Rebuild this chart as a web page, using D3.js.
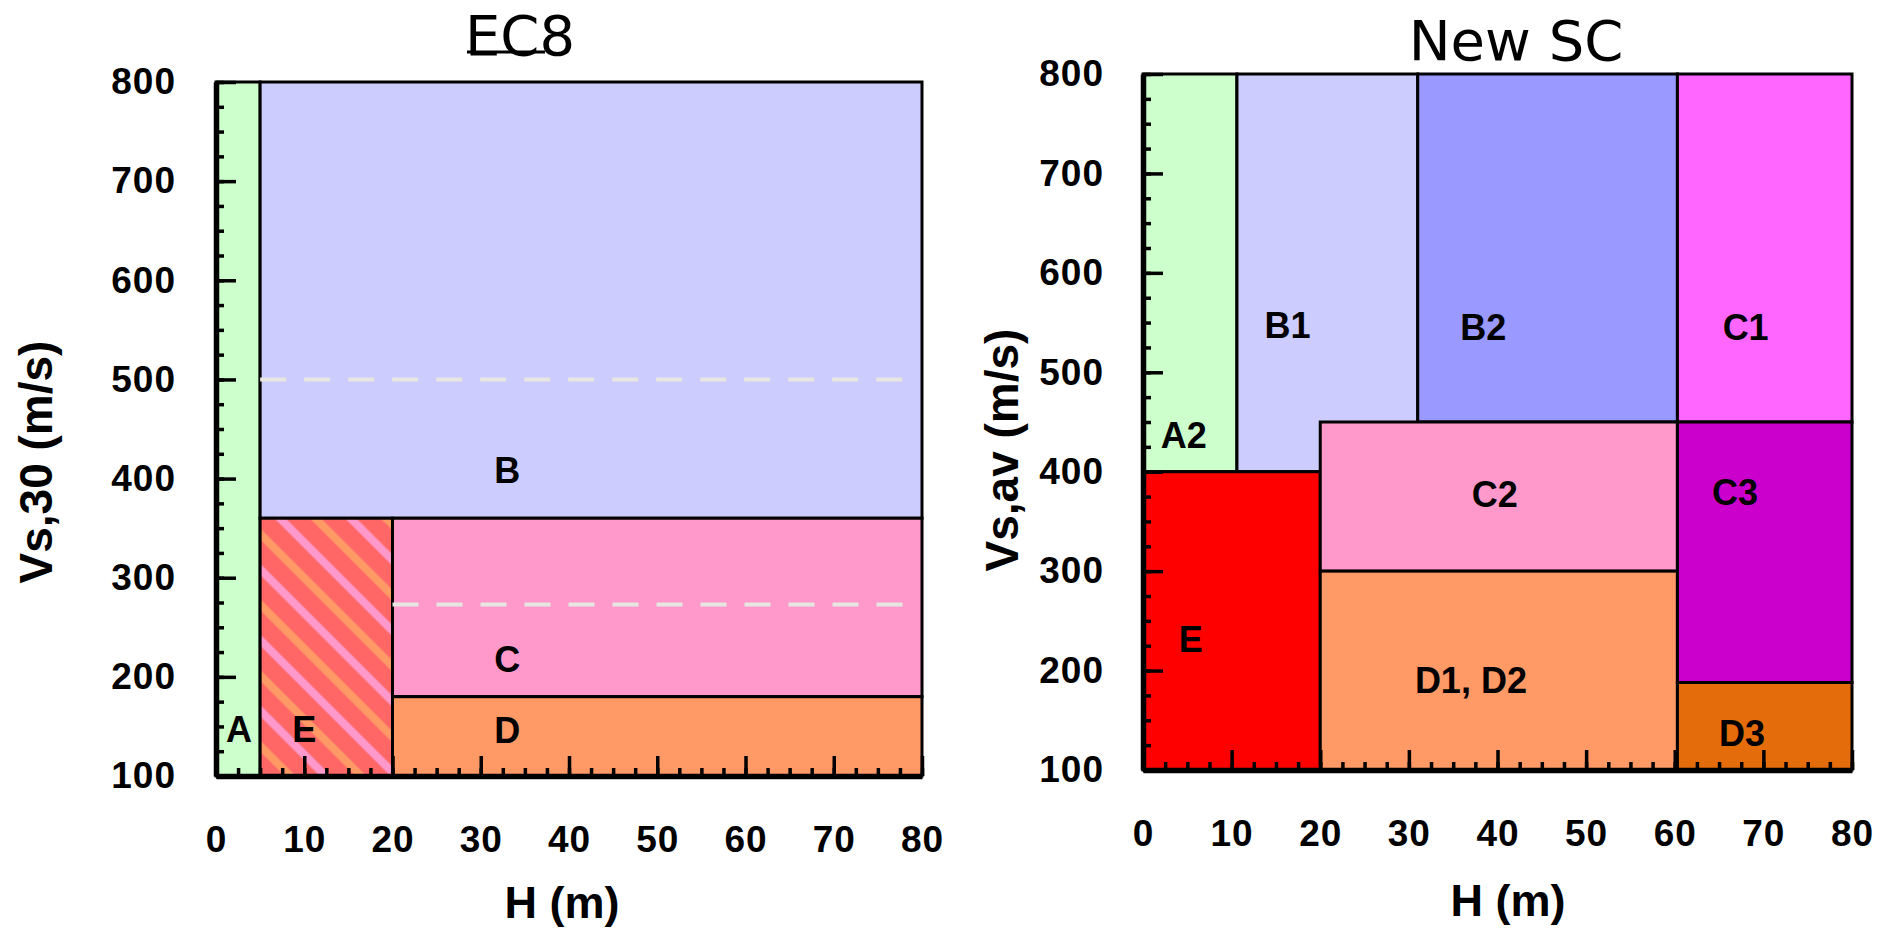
<!DOCTYPE html>
<html>
<head>
<meta charset="utf-8">
<script src="https://cdn.jsdelivr.net/npm/d3@7"></script>
<style>
  body { margin: 0; background: #fff; }
  text { font-family: "Liberation Sans", Arial, sans-serif; font-weight: bold; fill: #000; }
  .title { font-family: "DejaVu Sans", Verdana, sans-serif; font-weight: normal; }
</style>
</head>
<body>
<svg id="chart" width="1890" height="932"></svg>
<script>
// ---- EC8 panel zones
var ec8Names  = ["A", "B", "C", "D", "E"];
var ec8H0     = [0, 5, 20, 20, 5];
var ec8H1     = [5, 80, 80, 80, 20];
var ec8V0     = [100, 360, 180, 100, 100];
var ec8V1     = [800, 800, 360, 180, 360];
var ec8Fill   = ["#ccffcc", "#ccccff", "#ff99cc", "#ff9966", "url(#hatchE)"];
var ec8LabelH = [2.6, 33, 33, 33, 10];
var ec8LabelV = [147, 409, 218, 146, 147];
// dashed sub-limits
var ec8DashV  = [500, 273];
var ec8DashH0 = [5, 20];
var ec8DashH1 = [78.5, 78.5];

// ---- New SC panel zones (drawn back to front)
var scNames  = ["A2", "B1", "B2", "C1", "E", "C2", "D1, D2", "C3", "D3"];
var scH0     = [0, 10.6, 31, 60.3, 0, 20, 20, 60.3, 60.3];
var scH1     = [10.6, 31, 60.3, 80, 20, 60.3, 60.3, 80, 80];
var scV0     = [400, 400, 450, 450, 100, 300, 100, 188, 100];
var scV1     = [800, 800, 800, 800, 400, 450, 300, 450, 188];
var scFill   = ["#ccffcc", "#ccccff", "#9999ff", "#ff66ff", "#ff0000", "#ff99cc", "#ff9966", "#cc00cc", "#e46c0a"];
var scLabelH = [4.6, 16.3, 38.4, 68, 5.4, 39.7, 37, 66.8, 67.6];
var scLabelV = [437, 548, 546, 546, 232, 378, 190, 380, 137];

// ---- axes
var hTicks = [0, 10, 20, 30, 40, 50, 60, 70, 80];
var vTicks = [100, 200, 300, 400, 500, 600, 700, 800];
var hMinor = d3.range(0, 80.1, 2.5);
var vMinor = d3.range(100, 800.1, 25);

var svg = d3.select("#chart");

// hatch for EC8 zone E
var pat = svg.append("defs").append("pattern")
    .attr("id", "hatchE")
    .attr("patternUnits", "userSpaceOnUse")
    .attr("width", 50).attr("height", 50)
    .attr("patternTransform", "rotate(-45)");
pat.append("rect").attr("width", 50).attr("height", 50).attr("fill", "#ff6666");
pat.append("rect").attr("x", 2.5).attr("width", 8).attr("height", 50).attr("fill", "#ff9966");
pat.append("rect").attr("x", 27.5).attr("width", 8).attr("height", 50).attr("fill", "#ff99cc");

function drawPanel(p) {
  var x = d3.scaleLinear().domain([0, 80]).range(p.xRange);
  var y = d3.scaleLinear().domain([100, 800]).range(p.yRange);
  var g = svg.append("g");

  // zones
  g.selectAll("rect.zone")
    .data(p.names.map(function(n, i) { return i; }))
    .enter().append("rect")
      .attr("class", "zone")
      .attr("x", function(i) { return x(p.h0[i]); })
      .attr("y", function(i) { return y(p.v1[i]); })
      .attr("width", function(i) { return x(p.h1[i]) - x(p.h0[i]); })
      .attr("height", function(i) { return y(p.v0[i]) - y(p.v1[i]); })
      .attr("fill", function(i) { return p.fill[i]; })
      .attr("stroke", "#000")
      .attr("stroke-width", 3);

  // dashed lines
  if (p.dashV) {
    g.selectAll("line.dash")
      .data(p.dashV.map(function(v, i) { return i; }))
      .enter().append("line")
        .attr("x1", function(i) { return x(p.dashH0[i]); })
        .attr("x2", function(i) { return x(p.dashH1[i]); })
        .attr("y1", function(i) { return y(p.dashV[i]); })
        .attr("y2", function(i) { return y(p.dashV[i]); })
        .attr("stroke", "#e8e6e0")
        .attr("stroke-width", 4)
        .attr("stroke-dasharray", "26,18");
  }

  // zone labels
  g.selectAll("text.zl")
    .data(p.names.map(function(n, i) { return i; }))
    .enter().append("text")
      .attr("x", function(i) { return x(p.labelH[i]); })
      .attr("y", function(i) { return y(p.labelV[i]); })
      .attr("dy", "0.36em")
      .attr("text-anchor", "middle")
      .style("font-size", "36px")
      .text(function(i) { return p.names[i]; });

  // minor ticks
  g.append("g")
    .attr("transform", "translate(0," + p.yRange[0] + ")")
    .call(d3.axisBottom(x).tickValues(hMinor).tickSize(-8).tickFormat(""))
    .call(function(a) { a.select(".domain").remove(); });
  g.append("g")
    .attr("transform", "translate(" + p.xRange[0] + ",0)")
    .call(d3.axisLeft(y).tickValues(vMinor).tickSize(-8).tickFormat(""))
    .call(function(a) { a.select(".domain").remove(); });

  // major axes
  var xa = g.append("g")
    .attr("transform", "translate(0," + p.yRange[0] + ")")
    .call(d3.axisBottom(x).tickValues(hTicks).tickSizeInner(-20).tickSizeOuter(0).tickPadding(p.xPad));
  var ya = g.append("g")
    .attr("transform", "translate(" + p.xRange[0] + ",0)")
    .call(d3.axisLeft(y).tickValues(vTicks).tickSizeInner(-20).tickSizeOuter(0).tickPadding(p.yPad));
  [xa, ya].forEach(function(a) {
    a.selectAll("text").style("font-size", "37px").style("letter-spacing", "1px").style("font-family", null);
    a.select(".domain").attr("stroke-width", 5.5);
  });
  g.selectAll(".tick line").attr("stroke-width", 3.5);

  // titles
  g.append("text")
    .attr("class", "title")
    .attr("x", p.titleX).attr("y", p.titleY)
    .attr("text-anchor", "middle")
    .style("font-size", "56px")
    .text(p.title);
  g.append("text")
    .attr("x", p.xTitleX).attr("y", p.xTitleY)
    .attr("text-anchor", "middle")
    .style("font-size", "45px")
    .text("H (m)");
  g.append("text")
    .attr("transform", "translate(" + p.yTitleX + "," + p.yTitleY + ") rotate(-90)")
    .attr("text-anchor", "middle")
    .style("font-size", "46px")
    .text(p.yTitle);
  return g;
}

var left = drawPanel({
  xRange: [216, 922], yRange: [776, 82],
  names: ec8Names, h0: ec8H0, h1: ec8H1, v0: ec8V0, v1: ec8V1, fill: ec8Fill,
  labelH: ec8LabelH, labelV: ec8LabelV,
  dashV: ec8DashV, dashH0: ec8DashH0, dashH1: ec8DashH1,
  xPad: 50, yPad: 40,
  title: "EC8", titleX: 520, titleY: 55,
  xTitleX: 562, xTitleY: 918,
  yTitle: "Vs,30 (m/s)", yTitleX: 52, yTitleY: 462
});
// stray underline under the EC8 title
left.append("path")
  .attr("d", "M467,52 L545,52")
  .attr("stroke", "#000").attr("stroke-width", 3);

drawPanel({
  xRange: [1143, 1852], yRange: [770, 74],
  names: scNames, h0: scH0, h1: scH1, v0: scV0, v1: scV1, fill: scFill,
  labelH: scLabelH, labelV: scLabelV,
  xPad: 50, yPad: 39,
  title: "New SC", titleX: 1516, titleY: 60,
  xTitleX: 1508, xTitleY: 916,
  yTitle: "Vs,av (m/s)", yTitleX: 1018, yTitleY: 450
});
</script>
</body>
</html>
